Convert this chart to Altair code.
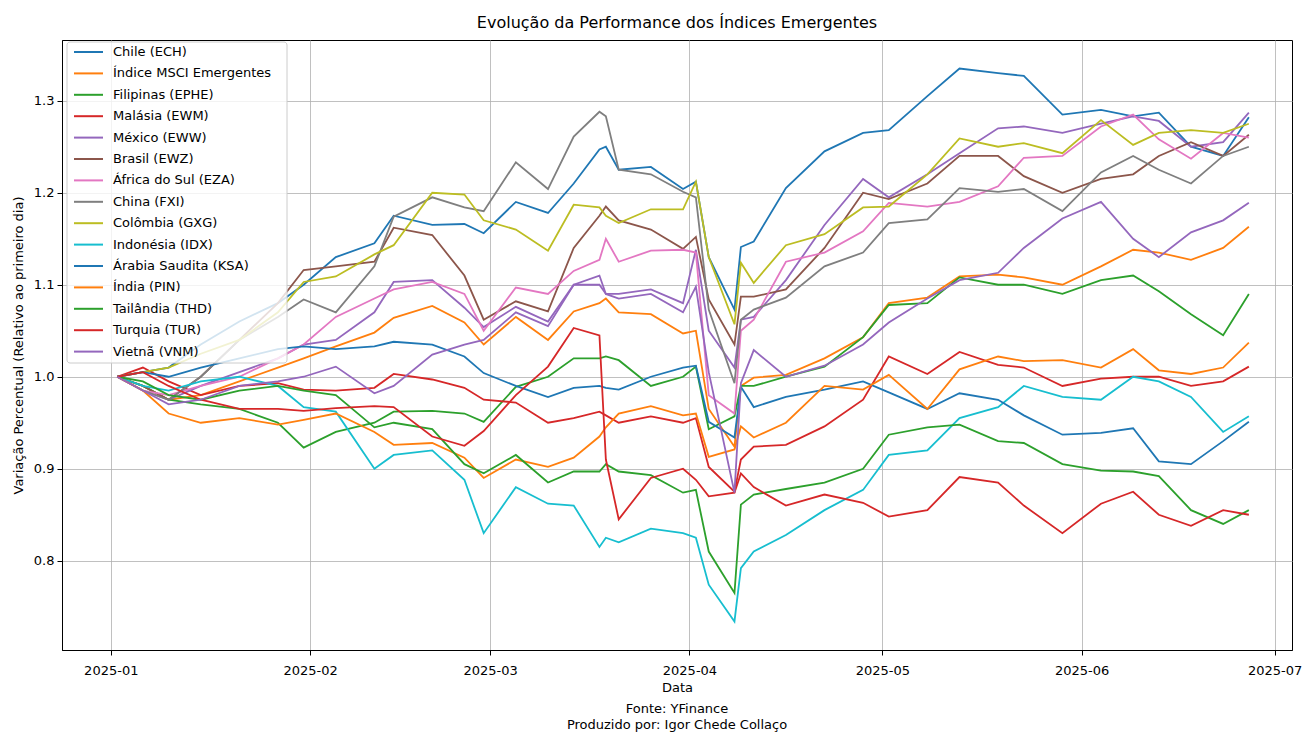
import altair as alt
import pandas as pd

dates = ["2025-01-02", "2025-01-06", "2025-01-10", "2025-01-15", "2025-01-21", "2025-01-27", "2025-01-31",
         "2025-02-05", "2025-02-11", "2025-02-14", "2025-02-20", "2025-02-25", "2025-02-28",
         "2025-03-05", "2025-03-10", "2025-03-14", "2025-03-18", "2025-03-19", "2025-03-21", "2025-03-26", "2025-03-31",
         "2025-04-02", "2025-04-04", "2025-04-08", "2025-04-09", "2025-04-11", "2025-04-16", "2025-04-22", "2025-04-28",
         "2025-05-02", "2025-05-08", "2025-05-13", "2025-05-19", "2025-05-23", "2025-05-29",
         "2025-06-04", "2025-06-09", "2025-06-13", "2025-06-18", "2025-06-23", "2025-06-27"]

series_names = ["Chile (ECH)", "Índice MSCI Emergentes", "Filipinas (EPHE)", "Malásia (EWM)", "México (EWW)",
                "Brasil (EWZ)", "África do Sul (EZA)", "China (FXI)", "Colômbia (GXG)", "Indonésia (IDX)",
                "Árabia Saudita (KSA)", "Índia (PIN)", "Tailândia (THD)", "Turquia (TUR)", "Vietnã (VNM)"]

colors = ["#1f77b4", "#ff7f0e", "#2ca02c", "#d62728", "#9467bd", "#8c564b", "#e377c2", "#7f7f7f", "#bcbd22",
          "#17becf", "#1f77b4", "#ff7f0e", "#2ca02c", "#d62728", "#9467bd"]

chile = [1.0, 1.005, 1.01, 1.035, 1.06, 1.08, 1.10, 1.13, 1.145, 1.175, 1.165, 1.166, 1.156,
         1.19, 1.178, 1.21, 1.247, 1.25, 1.225, 1.228, 1.204, 1.212, 1.13, 1.073, 1.141, 1.147, 1.205, 1.245, 1.265,
         1.268, 1.305, 1.335, 1.33, 1.327, 1.285, 1.29, 1.283, 1.287, 1.25, 1.24, 1.282]
msci = [1.0, 0.99, 0.975, 0.98, 0.995, 1.01, 1.02, 1.033, 1.048, 1.064, 1.077, 1.059, 1.035,
        1.065, 1.04, 1.071, 1.08, 1.085, 1.07, 1.068, 1.047, 1.05, 0.965, 0.924, 0.99, 0.999, 1.002, 1.02, 1.043,
        1.08, 1.086, 1.109, 1.111, 1.108, 1.1, 1.12, 1.138, 1.135, 1.127, 1.14, 1.163]
ephe = [1.0, 0.99, 0.975, 0.97, 0.965, 0.95, 0.923, 0.94, 0.95, 0.962, 0.963, 0.96, 0.951,
        0.989, 1.0, 1.02, 1.02, 1.022, 1.018, 0.99, 1.0, 1.011, 0.943, 0.957, 0.99, 0.99, 1.0, 1.011, 1.043,
        1.078, 1.08, 1.108, 1.1, 1.1, 1.09, 1.105, 1.11, 1.093, 1.068, 1.045, 1.09]
ewm = [1.0, 1.01, 0.995, 0.98, 0.99, 0.993, 0.986, 0.985, 0.988, 1.003, 0.997, 0.988, 0.975,
       0.972, 0.95, 0.955, 0.962, 0.958, 0.95, 0.957, 0.95, 0.955, 0.902, 0.875, 0.91, 0.924, 0.926, 0.946, 0.975,
       1.022, 1.003, 1.027, 1.013, 1.01, 0.99, 0.998, 1.0, 1.0, 0.99, 0.995, 1.011]
eww = [1.0, 0.985, 0.975, 0.99, 1.005, 1.02, 1.035, 1.04, 1.07, 1.103, 1.105, 1.075, 1.054,
       1.076, 1.06, 1.1, 1.1, 1.09, 1.09, 1.095, 1.08, 1.138, 1.05, 1.01, 1.062, 1.065, 1.105, 1.165, 1.215,
       1.195, 1.22, 1.243, 1.27, 1.272, 1.265, 1.275, 1.283, 1.278, 1.25, 1.255, 1.287]
ewz = [1.0, 0.99, 0.975, 1.0, 1.04, 1.08, 1.116, 1.12, 1.125, 1.162, 1.154, 1.11, 1.062,
       1.082, 1.071, 1.14, 1.175, 1.185, 1.17, 1.16, 1.139, 1.152, 1.084, 1.035, 1.087, 1.087, 1.095, 1.14, 1.2,
       1.193, 1.21, 1.24, 1.24, 1.218, 1.2, 1.215, 1.22, 1.24, 1.255, 1.24, 1.263]
eza = [1.0, 0.985, 0.98, 0.99, 1.0, 1.02, 1.035, 1.065, 1.085, 1.095, 1.103, 1.09, 1.05,
       1.097, 1.09, 1.115, 1.127, 1.15, 1.125, 1.137, 1.138, 1.135, 0.98, 0.96, 1.05, 1.062, 1.125, 1.135, 1.158,
       1.189, 1.185, 1.19, 1.207, 1.238, 1.24, 1.272, 1.285, 1.258, 1.237, 1.265, 1.26]
fxi = [1.0, 0.985, 0.975, 1.0, 1.04, 1.065, 1.084, 1.07, 1.12, 1.174, 1.195, 1.184, 1.18,
       1.233, 1.204, 1.261, 1.288, 1.283, 1.225, 1.22, 1.201, 1.195, 1.073, 0.993, 1.062, 1.073, 1.086, 1.12, 1.135,
       1.167, 1.171, 1.205, 1.201, 1.204, 1.18, 1.222, 1.24, 1.225, 1.21, 1.24, 1.25]
gxg = [1.0, 1.005, 1.01, 1.025, 1.04, 1.07, 1.103, 1.109, 1.133, 1.143, 1.2, 1.198, 1.17,
       1.16, 1.137, 1.187, 1.184, 1.175, 1.167, 1.182, 1.182, 1.212, 1.13, 1.057, 1.124, 1.102, 1.143, 1.155, 1.184,
       1.185, 1.22, 1.259, 1.25, 1.254, 1.243, 1.279, 1.252, 1.265, 1.268, 1.265, 1.275]
idx = [1.0, 0.99, 0.985, 0.995, 1.0, 0.99, 0.967, 0.962, 0.9, 0.915, 0.92, 0.888, 0.83,
       0.88, 0.862, 0.86, 0.815, 0.825, 0.82, 0.835, 0.83, 0.825, 0.774, 0.734, 0.792, 0.81, 0.828, 0.855, 0.877,
       0.915, 0.92, 0.955, 0.967, 0.99, 0.978, 0.975, 1.0, 0.995, 0.978, 0.94, 0.957]
ksa = [1.0, 1.005, 1.0, 1.01, 1.02, 1.03, 1.033, 1.03, 1.033, 1.038, 1.035, 1.022, 1.004,
       0.99, 0.978, 0.988, 0.99, 0.988, 0.986, 1.0, 1.01, 1.012, 0.951, 0.934, 0.989, 0.967, 0.978, 0.986, 0.995,
       0.983, 0.965, 0.982, 0.975, 0.958, 0.937, 0.939, 0.944, 0.908, 0.905, 0.93, 0.951]
pin = [1.0, 0.985, 0.96, 0.95, 0.955, 0.948, 0.953, 0.96, 0.94, 0.926, 0.928, 0.912, 0.89,
       0.91, 0.902, 0.912, 0.935, 0.945, 0.96, 0.968, 0.958, 0.96, 0.913, 0.921, 0.946, 0.934, 0.95, 0.99, 0.986,
       1.002, 0.965, 1.008, 1.022, 1.017, 1.018, 1.01, 1.03, 1.007, 1.003, 1.01, 1.037]
thd = [1.0, 0.995, 0.98, 0.975, 0.985, 0.99, 0.985, 0.98, 0.945, 0.95, 0.943, 0.905, 0.895,
       0.915, 0.885, 0.897, 0.897, 0.905, 0.897, 0.893, 0.874, 0.877, 0.81, 0.765, 0.861, 0.872, 0.878, 0.885, 0.9,
       0.937, 0.945, 0.948, 0.93, 0.928, 0.905, 0.898, 0.897, 0.892, 0.855, 0.84, 0.855]
tur = [1.0, 1.005, 0.99, 0.975, 0.965, 0.965, 0.963, 0.966, 0.968, 0.967, 0.935, 0.925, 0.941,
       0.98, 1.011, 1.053, 1.045, 0.91, 0.845, 0.89, 0.9, 0.888, 0.87, 0.874, 0.895, 0.88, 0.86, 0.872, 0.863,
       0.848, 0.855, 0.891, 0.885, 0.86, 0.83, 0.862, 0.875, 0.85, 0.838, 0.855, 0.85]
vnm = [1.0, 0.985, 0.97, 0.975, 0.99, 0.995, 1.0, 1.011, 0.982, 0.99, 1.024, 1.035, 1.04,
       1.07, 1.055, 1.1, 1.11, 1.09, 1.085, 1.09, 1.07, 1.098, 1.005, 0.874, 0.993, 1.029, 1.0, 1.012, 1.035,
       1.059, 1.085, 1.105, 1.113, 1.14, 1.172, 1.19, 1.15, 1.13, 1.157, 1.17, 1.189]

all_values = [chile, msci, ephe, ewm, eww, ewz, eza, fxi, gxg, idx, ksa, pin, thd, tur, vnm]

rows = []
for i, (name, vals) in enumerate(zip(series_names, all_values)):
    for d, v in zip(dates, vals):
        rows.append({"Data": d + "T00:00:00", "Serie": name, "Valor": v, "ordem": i})
df = pd.DataFrame(rows)

x_ticks = [alt.DateTime(year=2025, month=m, date=1) for m in range(1, 8)]
y_ticks = [0.8, 0.9, 1.0, 1.1, 1.2, 1.3]
color_scale = alt.Scale(domain=series_names, range=colors)

lines = alt.Chart(df).mark_line(strokeWidth=1.8, clip=True).encode(
    x=alt.X("Data:T", title="Data",
            scale=alt.Scale(domain=[alt.DateTime(year=2024, month=12, date=24, hours=10),
                                    alt.DateTime(year=2025, month=7, date=3, hours=17)]),
            axis=alt.Axis(values=x_ticks, format="%Y-%m", labelFlush=False, labelPadding=9,
                          titlePadding=4, labelOverlap=False)),
    y=alt.Y("Valor:Q", title="Variação Percentual (Relativo ao primeiro dia)",
            scale=alt.Scale(domain=[0.703, 1.366], nice=False, zero=False),
            axis=alt.Axis(values=y_ticks, format=".1f", titlePadding=8, labelPadding=3)),
    color=alt.Color("Serie:N", scale=color_scale, legend=None),
    order=alt.Order("ordem:Q"),
    detail="ordem:N",
)

# hand-made legend (matplotlib style, upper left)
leg_df = pd.DataFrame({"Serie": series_names, "i": list(range(len(series_names)))})
frame = alt.Chart(pd.DataFrame({"a": [0]})).mark_rect(
    fill="white", fillOpacity=0.8, stroke="#cccccc", strokeWidth=1, cornerRadius=3
).encode(x=alt.value(5), x2=alt.value(225), y=alt.value(2), y2=alt.value(323))

leg_base = alt.Chart(leg_df).transform_calculate(py="12 + datum.i * 21.4")
leg_sym = leg_base.mark_rule(strokeWidth=2).encode(
    x=alt.value(12), x2=alt.value(41),
    y=alt.Y("py:Q", scale=None, axis=None),
    color=alt.Color("Serie:N", scale=color_scale, legend=None),
)
leg_txt = leg_base.mark_text(align="left", baseline="middle", fontSize=13, font="DejaVu Sans",
                             color="black").encode(
    x=alt.value(51), y=alt.Y("py:Q", scale=None, axis=None), text="Serie:N")

notes = pd.DataFrame({"t": ["Fonte: YFinance", "Produzido por: Igor Chede Collaço"], "k": [0, 1]})
note1 = alt.Chart(notes[notes.k == 0]).mark_text(fontSize=13, font="DejaVu Sans", color="black",
                                                 align="center", baseline="middle").encode(
    text="t:N", x=alt.value(615), y=alt.value(669))
note2 = alt.Chart(notes[notes.k == 1]).mark_text(fontSize=13, font="DejaVu Sans", color="black",
                                                 align="center", baseline="middle").encode(
    text="t:N", x=alt.value(615), y=alt.value(685))

chart = alt.layer(lines, frame, leg_sym, leg_txt, note1, note2).resolve_scale(
    y="independent"
).properties(
    width=1230, height=610,
    title=alt.TitleParams("Evolução da Performance dos Índices Emergentes", fontSize=16, font="DejaVu Sans",
                          fontWeight="normal", anchor="middle", offset=9, color="black"),
    autosize=alt.AutoSizeParams(type="none"),
    padding={"left": 54, "top": 32, "right": 11, "bottom": 85},
).configure_axis(
    labelFont="DejaVu Sans", titleFont="DejaVu Sans", labelFontSize=13, titleFontSize=13,
    titleFontWeight="normal", labelColor="black", titleColor="black", domainColor="black",
    tickColor="black", tickSize=5, gridColor="#b0b0b0", gridWidth=0.8, grid=True
).configure_view(stroke="black", strokeWidth=1)

chart.save("out.html", embed_options={"renderer": "svg", "actions": False})
